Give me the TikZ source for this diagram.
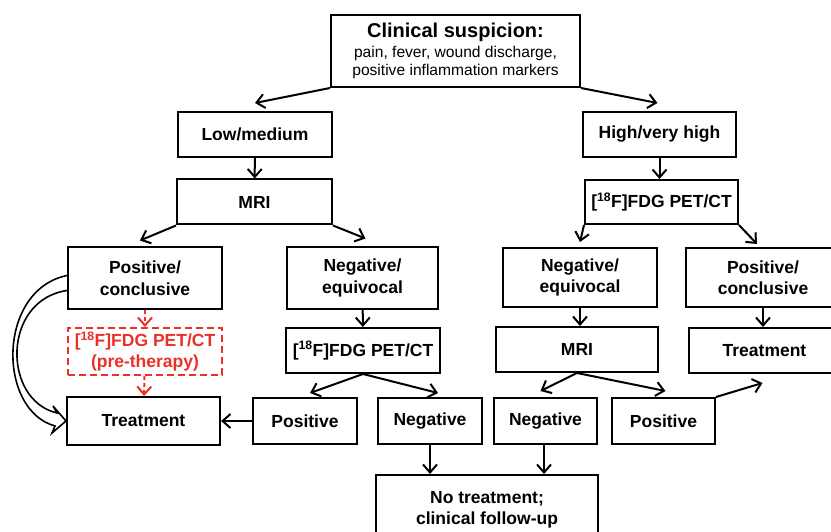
\documentclass[tikz,border=0pt]{standalone}
\usepackage{fontspec}
\setmainfont{Liberation Sans}
\usetikzlibrary{arrows.meta}
\definecolor{petred}{RGB}{236,48,38}

\begin{document}
\begin{tikzpicture}[x=1pt,y=-1pt,
                    boxND/.style={rectangle,
                                  draw=black,
                                  line width=2pt,
                                  inner sep=0pt,
                                  align=center,
                                  font=\fontsize{17.5}{21.5}\selectfont\bfseries},
                    redND/.style={boxND,
                                  draw=petred,
                                  text=petred,
                                  dashed,
                                  dash pattern=on 7pt off 4pt},
                    arr/.style={line width=2pt,
                                -{Straight Barb[length=8pt,width=14pt,line width=2pt]}},
                    redarr/.style={arr,
                                   draw=petred,
                                   dash pattern=on 4pt off 3pt},
                    hollow/.style={line width=1.6pt,
                                   line join=miter}]
    \useasboundingbox (0,0) rectangle (831,532);
    % top of the tree
    \node[boxND, minimum width=249pt, minimum height=72pt](susp) at (455.5,51)
        {{\fontsize{20}{23}\selectfont Clinical suspicion:}\\[-2pt]
         {\fontsize{15.6}{17.5}\selectfont\mdseries pain, fever, wound discharge,}\\[-3pt]
         {\fontsize{15.6}{17.5}\selectfont\mdseries positive inflammation markers}};
    \node[boxND, minimum width=154pt, minimum height=45pt](low)  at (255,134.5) {Low/medium};
    \node[boxND, minimum width=153pt, minimum height=45pt](high) at (659.5,134.5) {High/very high};
    % left branch
    \node[boxND, minimum width=155pt, minimum height=45pt](mriL)  at (254.5,202) {MRI};
    \node[boxND, minimum width=154pt, minimum height=61pt](posL)  at (145,278) {Positive/\\conclusive};
    \node[boxND, minimum width=151pt, minimum height=61pt](negL)  at (362.5,278) {Negative/\\equivocal};
    \node[redND, minimum width=154pt, minimum height=47pt](preT)  at (145,351.5)
        {[\textsuperscript{18}F]FDG PET/CT\\(pre-therapy)};
    \node[boxND, minimum width=154pt, minimum height=45pt](petM)  at (363,350.5) {[\textsuperscript{18}F]FDG PET/CT};
    \node[boxND, minimum width=153pt, minimum height=48pt](treatL) at (143.5,421) {Treatment};
    \node[boxND, minimum width=104pt, minimum height=46pt](posM)  at (305,421) {Positive};
    \node[boxND, minimum width=104pt, minimum height=46pt](negM)  at (430,421) {Negative};
    % right branch
    \node[boxND, minimum width=153pt, minimum height=44pt](petR)  at (661.5,202) {[\textsuperscript{18}F]FDG PET/CT};
    \node[boxND, minimum width=154pt, minimum height=59pt](negR)  at (580,277.5) {Negative/\\equivocal};
    \node[boxND, minimum width=154pt, minimum height=59pt](posR)  at (763,277.5) {Positive/\\conclusive};
    \node[boxND, minimum width=162pt, minimum height=45pt](mriR)  at (577,349.5) {MRI};
    \node[boxND, minimum width=151pt, minimum height=45pt](treatR) at (764.5,350.5) {Treatment};
    \node[boxND, minimum width=103pt, minimum height=46pt](negR2) at (545.5,421) {Negative};
    \node[boxND, minimum width=103pt, minimum height=46pt](posR2) at (663.5,421) {Positive};
    % bottom
    \node[boxND, minimum width=222pt, minimum height=70pt](none)  at (487,510)
        {No treatment;\\clinical follow-up};

    \path
        (susp.south west) edge [arr] ([yshift=8pt]low.north)
        (susp.south east) edge [arr] ([yshift=8pt,xshift=-2pt]high.north)
        (low)  edge [arr] (mriL)
        (high) edge [arr] (high.south |- petR.north)
        (mriL.south west) edge [arr] ([xshift=-5pt,yshift=6pt]posL.north)
        (mriL.south east) edge [arr] ([xshift=3pt,yshift=8pt]negL.north)
        (negL) edge [arr] (petM)
        (petM.south) edge [arr] ([xshift=5pt,yshift=4pt]posM.north)
        (petM.south) edge [arr] ([xshift=8pt,yshift=4pt]negM.north)
        (posM) edge [arr] (treatL)
        (negM) edge [arr] (negM.south |- none.north)
        (petR.south west) edge [arr] ([yshift=5pt]negR.north)
        (petR.south east) edge [arr] ([xshift=-6pt,yshift=3pt]posR.north)
        (negR) edge [arr] (negR.south |- mriR.north)
        (posR) edge [arr] (posR.south |- treatR.north)
        (mriR.south) edge [arr] ([xshift=-5pt,yshift=6pt]negR2.north)
        (mriR.south) edge [arr] ([xshift=2pt,yshift=6pt]posR2.north)
        (posR2.north east) edge [arr] ([xshift=-2pt,yshift=-9pt]treatR.south)
        (negR2.south -| 544,0) edge [arr] (544,0 |- none.north)
        (posL) edge [redarr] (preT)
        (preT) edge [redarr] (treatL)
        ;
    % open arrow from positive/conclusive straight to treatment
    \draw[hollow] ([yshift=2.5pt]posL.west) .. controls (-3,290) and (-3,410) .. (55,426)
        -- (52,433) -- (treatL.west) -- (53,406) -- (57,413)
        .. controls (2,400) and (2,300) .. ([yshift=-12.5pt]posL.west);
\end{tikzpicture}
\end{document}
